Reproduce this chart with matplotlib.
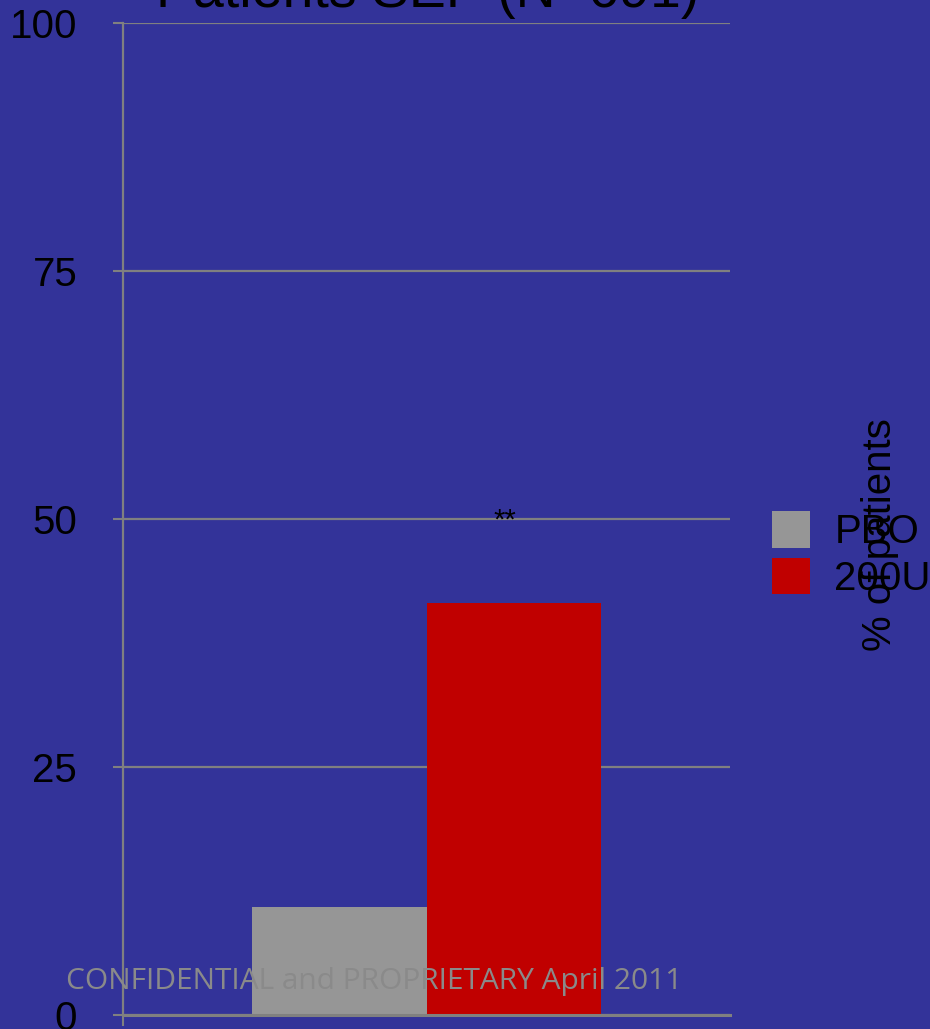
import matplotlib
matplotlib.use("Agg")
import matplotlib.pyplot as plt
from matplotlib.patches import Patch

# data
groups = ["PBO", "200U"]
values = [10.9, 41.5]
colors = ["#969696", "#c00000"]
yticks = [0, 25, 50, 75, 100]
title = "Patients SEP (N=691)"
footer = "CONFIDENTIAL and PROPRIETARY April 2011"

bg = "#333399"
grid_col = "#808080"

plt.rcParams["font.family"] = ["Liberation Sans", "DejaVu Sans"]

fig = plt.figure(figsize=(9.3, 10.29), dpi=100, facecolor=bg)
ax = fig.add_axes([123 / 930, 1 - 1015 / 1029, 607 / 930, 992 / 1029])
ax.set_facecolor(bg)

w = 0.2875
xs = [-w / 2, w / 2]
for x, v, c in zip(xs, values, colors):
    ax.bar(x, v, width=w, color=c, zorder=3)

ax.set_xlim(-0.5, 0.5)
ax.set_ylim(0, 100)
ax.set_yticks(yticks)
ax.set_yticklabels([str(t) for t in yticks], fontsize=29, color="black")
ax.tick_params(axis="y", length=7, width=1.5, color=grid_col, pad=26)
ax.set_xticks([-0.5])
ax.set_xticklabels([""])
ax.tick_params(axis="x", length=8, width=1.5, color=grid_col)
ax.yaxis.grid(True, color=grid_col, linewidth=1.6, zorder=1)
for s in ["top", "right", "bottom"]:
    ax.spines[s].set_visible(False)
ax.spines["left"].set_color(grid_col)
ax.spines["left"].set_linewidth(1.6)
ax.axhline(0, color=grid_col, linewidth=2.2, zorder=4, clip_on=False)

# significance marker over the 200U bar
ax.text(xs[1] - 0.015, 48.4, "**", ha="center", va="bottom", fontsize=21, color="black")

# title, mostly cut off at the top
fig.text(428 / 930, 1 - 7 / 1029, title, ha="center", va="baseline", fontsize=40, color="black")

# legend
handles = [Patch(facecolor=c, edgecolor="none") for c in colors]
fig.legend(handles, groups, loc="upper left", bbox_to_anchor=(772 / 930, 1 - 511 / 1029),
           frameon=False, fontsize=29, handlelength=0.95, handleheight=1.02,
           handletextpad=0.6, labelspacing=0.17, borderaxespad=0, borderpad=0)

# y label on the right, overlapping the legend
fig.text(880 / 930, 1 - 535 / 1029, "% of patients", rotation=90, ha="center", va="center",
         fontsize=29, color="black")

fig.text(374 / 930, 1 - 982 / 1029, footer, ha="center", va="center", fontsize=21.5,
         color="#8a8a8a", family=["Open Sans", "DejaVu Sans"])

fig.savefig("out.png", dpi=100, facecolor=bg)
